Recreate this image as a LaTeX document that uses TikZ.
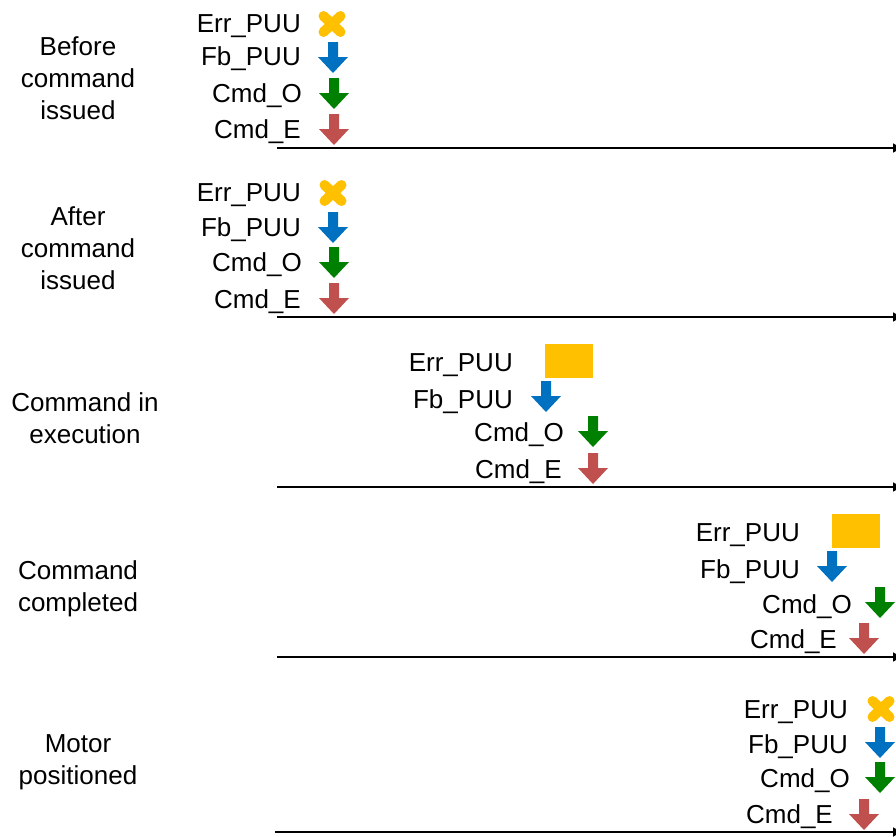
\documentclass[tikz,border=0pt]{standalone}
\usepackage{fontspec}
\setmainfont{Liberation Sans}
\usetikzlibrary{arrows.meta}
\definecolor{errorange}{HTML}{FFC000}
\definecolor{fbblue}{HTML}{0070C0}
\definecolor{cmdgreen}{HTML}{008000}
\definecolor{cmdred}{HTML}{C0504D}

\tikzset{
  sig/.style={font=\fontsize{26}{30}\selectfont, anchor=base east, inner sep=0pt},
  stage/.style={font=\fontsize{26}{32}\selectfont, align=center, inner sep=0pt},
  errbox/.style={fill=errorange, minimum width=48pt, minimum height=34pt, inner sep=0pt},
  timeaxis/.style={line width=1.6pt, -{Latex[length=10pt,width=10pt]}},
  dnarrow/.pic={\fill (-5,-15) -- (5,-15) -- (5,0) -- (15,0) -- (0,16) -- (-15,0) -- (-5,0) -- cycle;},
  errcross/.pic={\draw[line width=10pt, line cap=round] (-8.5,-8) -- (8.5,8) (-8.5,8) -- (8.5,-8);}
}

\begin{document}
\begin{tikzpicture}[x=1pt, y=-1pt]
\useasboundingbox (0,0) rectangle (896,836);

% Before command issued
\node[stage] (st1) at (78,78) {Before\\command\\issued};
\node[sig] (err1) at (301,32) {Err\_PUU};
\node[sig] (fb1) at (301,65) {Fb\_PUU};
\node[sig] (cmdo1) at (302,102) {Cmd\_O};
\node[sig] (cmde1) at (301,138) {Cmd\_E};
\pic[color=errorange] (xerr1) at (332,24) {errcross};
\pic[color=fbblue] (afb1) at (333,57) {dnarrow};
\pic[color=cmdgreen] (acmdo1) at (334,93) {dnarrow};
\pic[color=cmdred] (acmde1) at (334,129) {dnarrow};
\coordinate (ax1s) at (277,148);
\coordinate (ax1e) at (903,148);
\draw[timeaxis] (ax1s) -- (ax1e);

% After command issued
\node[stage] (st2) at (78,248) {After\\command\\issued};
\node[sig] (err2) at (301,201) {Err\_PUU};
\node[sig] (fb2) at (301,236) {Fb\_PUU};
\node[sig] (cmdo2) at (302,271) {Cmd\_O};
\node[sig] (cmde2) at (301,308) {Cmd\_E};
\pic[color=errorange] (xerr2) at (333,193) {errcross};
\pic[color=fbblue] (afb2) at (333,227) {dnarrow};
\pic[color=cmdgreen] (acmdo2) at (334,262) {dnarrow};
\pic[color=cmdred] (acmde2) at (334,298) {dnarrow};
\coordinate (ax2s) at (277,317);
\coordinate (ax2e) at (903,317);
\draw[timeaxis] (ax2s) -- (ax2e);

% Command in execution
\node[stage] (st3) at (85,418) {Command in\\execution};
\node[sig] (err3) at (513,371) {Err\_PUU};
\node[sig] (fb3) at (513,408) {Fb\_PUU};
\node[sig] (cmdo3) at (564,441) {Cmd\_O};
\node[sig] (cmde3) at (562,478) {Cmd\_E};
\node[errbox] (berr3) at (569,361) {};
\pic[color=fbblue] (afb3) at (546,396) {dnarrow};
\pic[color=cmdgreen] (acmdo3) at (593,431) {dnarrow};
\pic[color=cmdred] (acmde3) at (593,468) {dnarrow};
\coordinate (ax3s) at (277,487);
\coordinate (ax3e) at (903,487);
\draw[timeaxis] (ax3s) -- (ax3e);

% Command completed
\node[stage] (st4) at (78,589) {Command\\completed};
\node[sig] (err4) at (800,541) {Err\_PUU};
\node[sig] (fb4) at (800,578) {Fb\_PUU};
\node[sig] (cmdo4) at (852,613) {Cmd\_O};
\node[sig] (cmde4) at (837,648) {Cmd\_E};
\node[errbox] (berr4) at (856,531) {};
\pic[color=fbblue] (afb4) at (832,566) {dnarrow};
\pic[color=cmdgreen] (acmdo4) at (880,602) {dnarrow};
\pic[color=cmdred] (acmde4) at (864,638) {dnarrow};
\coordinate (ax4s) at (277,657);
\coordinate (ax4e) at (903,657);
\draw[timeaxis] (ax4s) -- (ax4e);

% Motor positioned
\node[stage] (st5) at (78,762) {Motor\\positioned};
\node[sig] (err5) at (848,718) {Err\_PUU};
\node[sig] (fb5) at (848,753) {Fb\_PUU};
\node[sig] (cmdo5) at (850,787) {Cmd\_O};
\node[sig] (cmde5) at (833,823) {Cmd\_E};
\pic[color=errorange] (xerr5) at (881,709) {errcross};
\pic[color=fbblue] (afb5) at (880,742) {dnarrow};
\pic[color=cmdgreen] (acmdo5) at (880,777) {dnarrow};
\pic[color=cmdred] (acmde5) at (864,814) {dnarrow};
\coordinate (ax5s) at (275,832);
\coordinate (ax5e) at (903,832);
\draw[timeaxis] (ax5s) -- (ax5e);

\end{tikzpicture}
\end{document}
